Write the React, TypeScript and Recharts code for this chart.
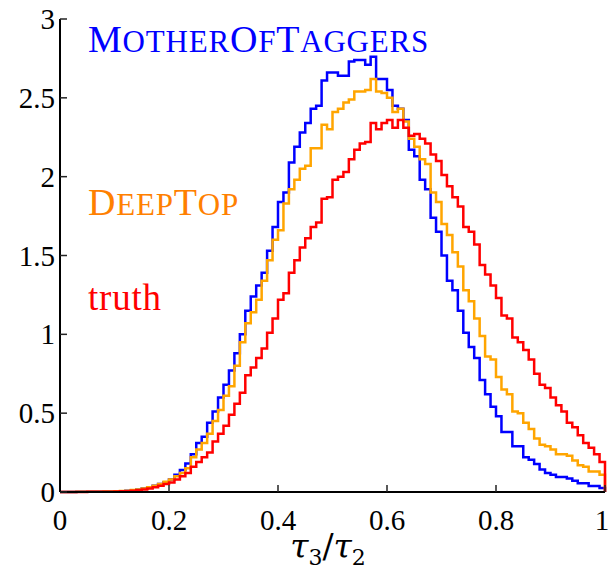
import { LineChart, Line, XAxis, YAxis } from "recharts";

// normalised tau3/tau2 histograms, 100 bins of width 0.01 on [0, 1]
const motherOfTaggers = [
  0, 0, 0, 0.001, 0.001, 0.001, 0.002, 0.002, 0.003, 0.003,
  0.004, 0.005, 0.008, 0.011, 0.016, 0.022, 0.03, 0.04, 0.05, 0.062,
  0.08, 0.11, 0.14, 0.18, 0.24, 0.31, 0.35, 0.44, 0.51, 0.6,
  0.68, 0.77, 0.88, 1.0, 1.15, 1.24, 1.31, 1.39, 1.53, 1.68,
  1.84, 1.9, 2.09, 2.19, 2.28, 2.34, 2.43, 2.45, 2.61, 2.66,
  2.66, 2.64, 2.64, 2.73, 2.74, 2.74, 2.71, 2.76, 2.62, 2.62,
  2.55, 2.45, 2.43, 2.36, 2.17, 2.13, 1.98, 1.92, 1.74, 1.65,
  1.5, 1.34, 1.28, 1.15, 1.01, 0.92, 0.85, 0.71, 0.62, 0.54,
  0.48, 0.38, 0.38, 0.29, 0.29, 0.22, 0.205, 0.178, 0.142, 0.121,
  0.11, 0.095, 0.095, 0.085, 0.072, 0.055, 0.055, 0.038, 0.038, 0.025,
];

const deepTop = [
  0, 0, 0, 0.001, 0.001, 0.001, 0.002, 0.002, 0.003, 0.003,
  0.004, 0.006, 0.008, 0.012, 0.016, 0.022, 0.03, 0.04, 0.05, 0.065,
  0.08, 0.1, 0.12, 0.15, 0.22, 0.27, 0.31, 0.37, 0.45, 0.52,
  0.61, 0.67, 0.8, 0.95, 1.07, 1.14, 1.22, 1.34, 1.47, 1.6,
  1.66, 1.83, 1.92, 1.98, 2.05, 2.07, 2.18, 2.18, 2.33, 2.3,
  2.41, 2.43, 2.47, 2.49, 2.54, 2.54, 2.55, 2.62, 2.54, 2.53,
  2.5, 2.41, 2.43, 2.35, 2.24, 2.19, 2.11, 2.08, 1.9, 1.84,
  1.7, 1.63, 1.52, 1.43, 1.28, 1.21, 1.1, 0.99, 0.86, 0.84,
  0.73, 0.65, 0.62, 0.51, 0.5, 0.44, 0.4, 0.34, 0.3, 0.29,
  0.27, 0.24, 0.24, 0.23, 0.2, 0.17, 0.16, 0.13, 0.13, 0.11,
];

const truth = [
  0, 0, 0, 0, 0, 0.001, 0.001, 0.001, 0.002, 0.002,
  0.003, 0.004, 0.005, 0.008, 0.011, 0.016, 0.022, 0.03, 0.04, 0.05,
  0.06, 0.08, 0.1, 0.12, 0.16, 0.19, 0.22, 0.25, 0.32, 0.37,
  0.42, 0.49, 0.56, 0.63, 0.74, 0.79, 0.85, 0.91, 1.01, 1.1,
  1.22, 1.26, 1.39, 1.47, 1.55, 1.61, 1.68, 1.71, 1.86, 1.87,
  1.98, 2.0, 2.03, 2.11, 2.17, 2.21, 2.22, 2.34, 2.3, 2.34,
  2.36, 2.31, 2.36, 2.31, 2.26, 2.27, 2.24, 2.21, 2.14, 2.1,
  2.01, 1.94, 1.87, 1.81, 1.68, 1.65, 1.57, 1.44, 1.38, 1.31,
  1.23, 1.12, 1.1, 0.98, 0.95, 0.9, 0.84, 0.75, 0.68, 0.66,
  0.6, 0.55, 0.51, 0.44, 0.41, 0.36, 0.31, 0.28, 0.24, 0.19,
];

const binWidth = 0.01;
const xTicks = [0, 0.2, 0.4, 0.6, 0.8, 1];
const yTicks = [0, 0.5, 1, 1.5, 2, 2.5, 3];

const rows = motherOfTaggers.map((v, i) => ({
  x: +(i * binWidth).toFixed(2),
  mot: v,
  deep: deepTop[i],
  truth: truth[i],
}));
// close the step outline at the upper edge of the last bin
rows.push({ x: 1, mot: 0, deep: 0, truth: 0 });

const W = 611;
const H = 581;
const SERIF = "Liberation Serif";
const MATH = "DejaVu Serif";
const BLUE = "#0000ff";
const ORANGE = "#ffa500";
const RED = "#ff0000";

const axisLine = { stroke: "#000", strokeWidth: 2 };
const tickLine = { stroke: "#222", strokeWidth: 1.5 };

function BottomTick({ x, y, payload, index, visibleTicksCount }: any) {
  // keep the last label inside the canvas
  const nudge = index === visibleTicksCount - 1 ? -3 : 0;
  return (
    <text x={x + nudge} y={y} dy="0.71em" textAnchor="middle" fontFamily={SERIF} fontSize={29} fill="#000">
      {payload.value}
    </text>
  );
}

function LeftTick({ x, y, payload }: any) {
  return (
    <text x={x} y={y} dy="0.35em" textAnchor="end" fontFamily={SERIF} fontSize={29} fill="#000">
      {payload.value}
    </text>
  );
}

export default function App() {
  return (
    <div style={{ position: "absolute", left: 0, top: 0, width: W, height: H, background: "#fff" }}>
      <LineChart width={W} height={H} data={rows} margin={{ top: 19, right: 6, bottom: 29, left: 0 }}>
        <XAxis
          dataKey="x"
          type="number"
          domain={[0, 1]}
          ticks={xTicks}
          height={60}
          axisLine={axisLine}
          tickLine={tickLine}
          tickSize={-7}
          tickMargin={24}
          tick={<BottomTick />}
        />
        <XAxis
          xAxisId="top"
          orientation="top"
          type="number"
          domain={[0, 1]}
          ticks={xTicks}
          height={0}
          axisLine={axisLine}
          tickLine={tickLine}
          tickSize={-7}
          tick={false}
        />
        <YAxis
          type="number"
          domain={[0, 3]}
          ticks={yTicks}
          width={60}
          axisLine={axisLine}
          tickLine={tickLine}
          tickSize={-7}
          tickMargin={12}
          tick={<LeftTick />}
        />
        <YAxis
          yAxisId="right"
          orientation="right"
          type="number"
          domain={[0, 3]}
          ticks={yTicks}
          width={0}
          axisLine={axisLine}
          tickLine={tickLine}
          tickSize={-7}
          tick={false}
        />
        <Line type="stepAfter" dataKey="mot" stroke={BLUE} strokeWidth={2.5} strokeLinejoin="miter" dot={false} activeDot={false} isAnimationActive={false} />
        <Line type="stepAfter" dataKey="deep" stroke={ORANGE} strokeWidth={2.5} strokeLinejoin="miter" dot={false} activeDot={false} isAnimationActive={false} />
        <Line type="stepAfter" dataKey="truth" stroke={RED} strokeWidth={2.5} strokeLinejoin="miter" dot={false} activeDot={false} isAnimationActive={false} />
      </LineChart>
      <svg width={W} height={H} style={{ position: "absolute", left: 0, top: 0, pointerEvents: "none" }}>
        <text x={88} y={52} fill={BLUE} fontSize={38} letterSpacing={0.8} fontFamily={SERIF}>
          <tspan>M</tspan>
          <tspan fontSize={31}>OTHER</tspan>
          <tspan>O</tspan>
          <tspan fontSize={31}>F</tspan>
          <tspan>T</tspan>
          <tspan fontSize={31}>AGGERS</tspan>
        </text>
        <text x={88} y={215} fill="#ff8000" fontSize={38} letterSpacing={0.8} fontFamily={SERIF}>
          <tspan>D</tspan>
          <tspan fontSize={31}>EEP</tspan>
          <tspan>T</tspan>
          <tspan fontSize={31}>OP</tspan>
        </text>
        <text x={88} y={310} fill={RED} fontSize={37} letterSpacing={0.8} fontFamily={SERIF}>
          truth
        </text>
        <text x={328} y={558} textAnchor="middle" fontSize={33} fill="#000" fontFamily={MATH}>
          <tspan fontStyle="italic">τ</tspan>
          <tspan fontSize={22} dy={7}>3</tspan>
          <tspan dy={-7}>/</tspan>
          <tspan fontStyle="italic">τ</tspan>
          <tspan fontSize={22} dy={7}>2</tspan>
        </text>
      </svg>
    </div>
  );
}
